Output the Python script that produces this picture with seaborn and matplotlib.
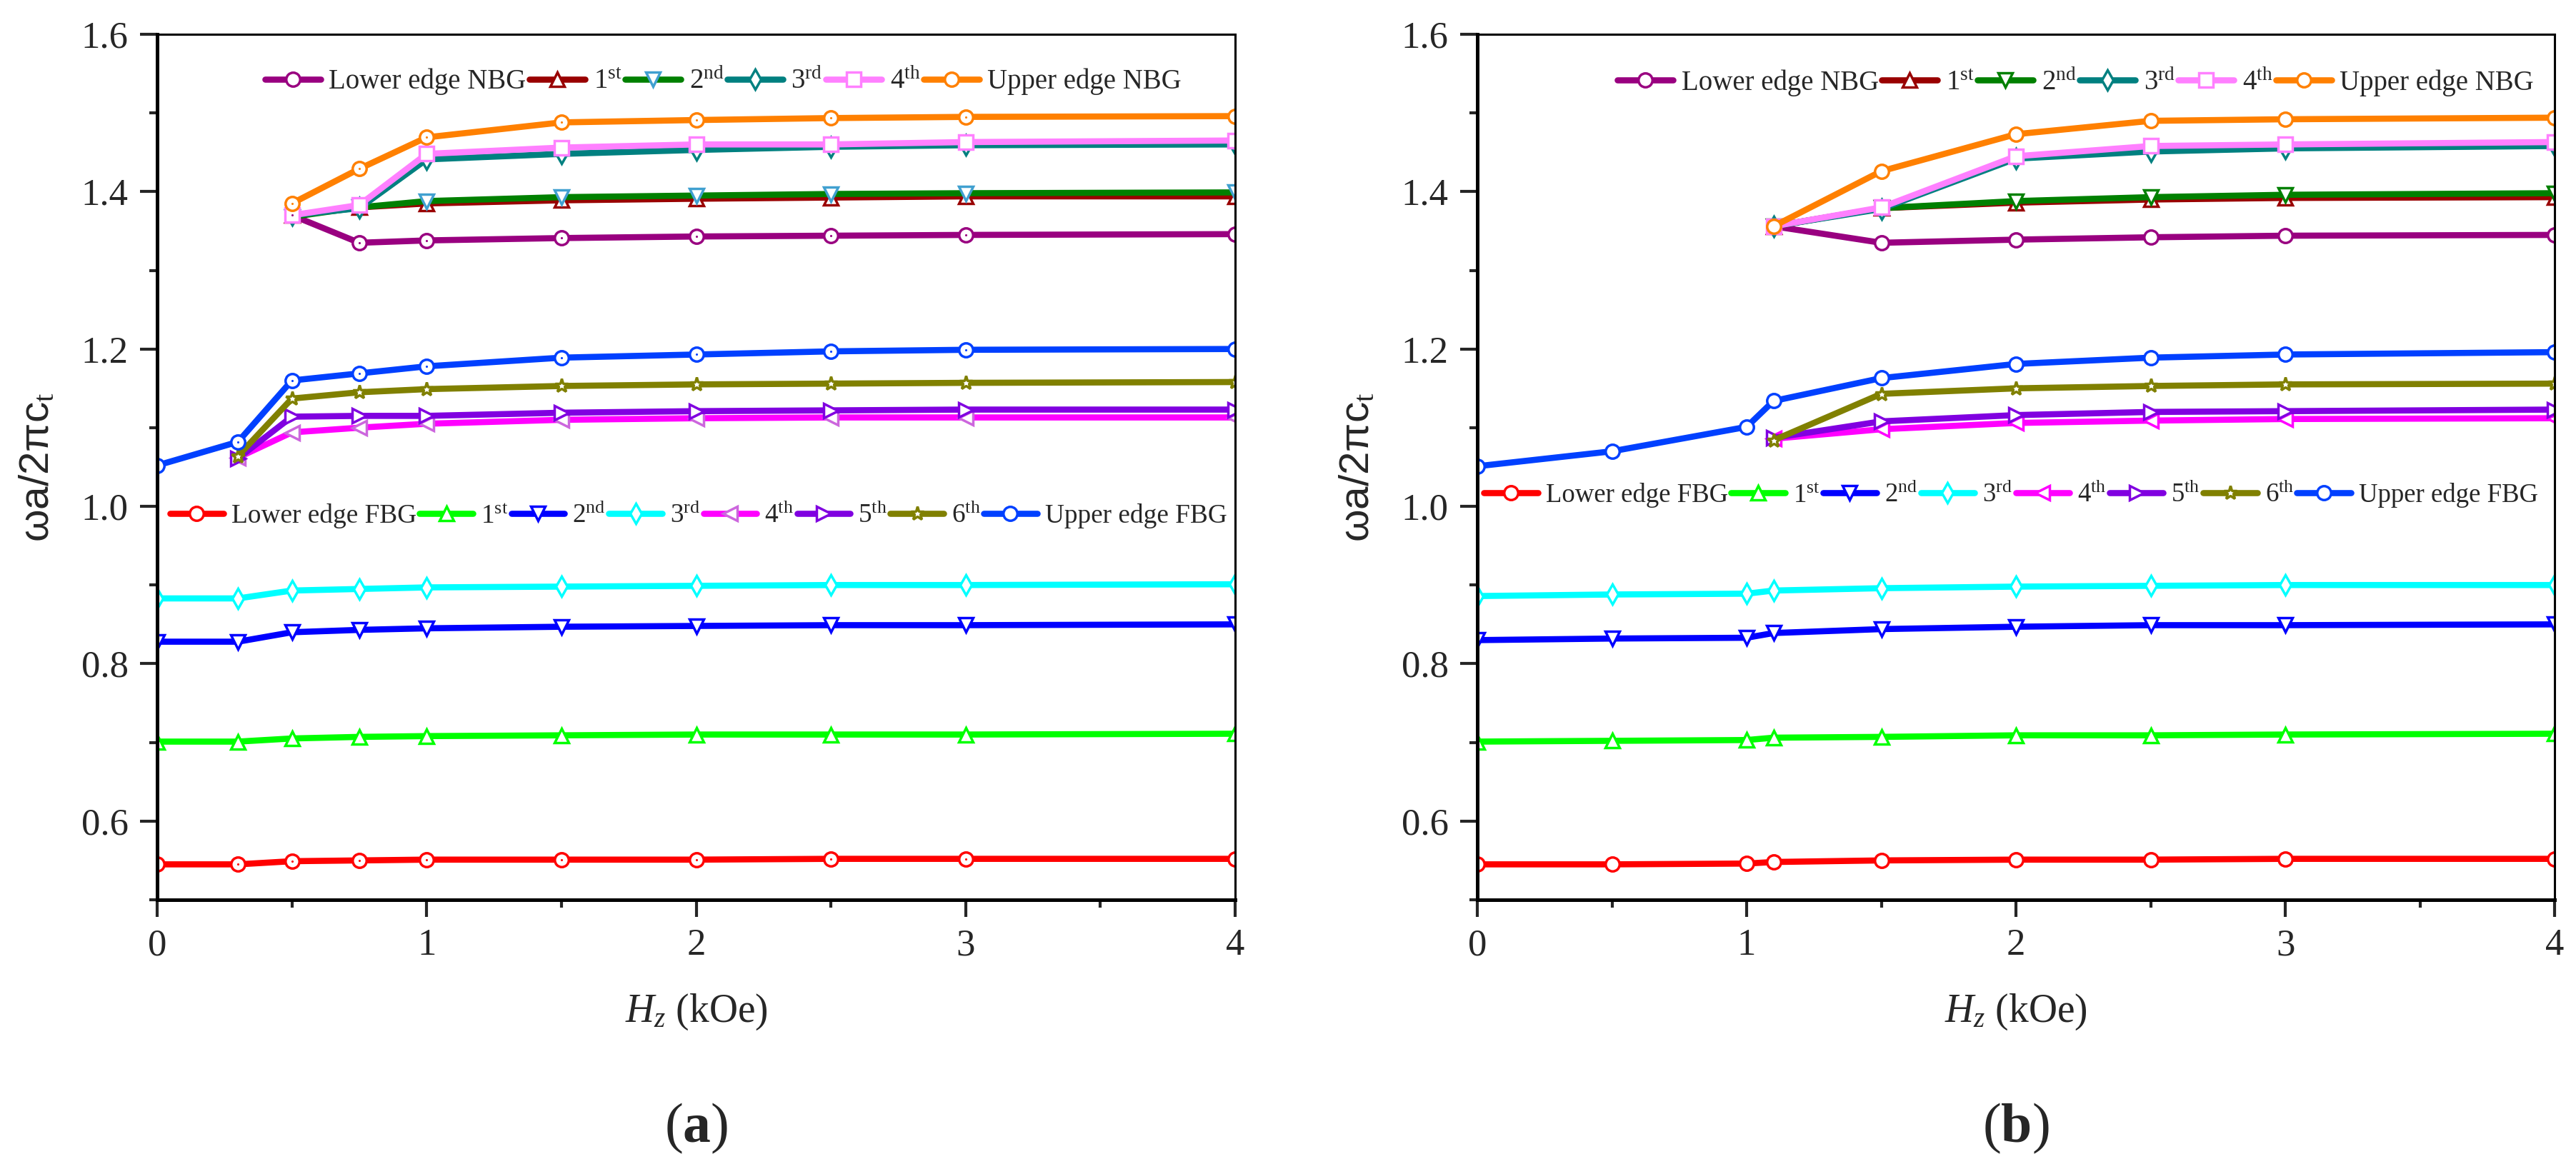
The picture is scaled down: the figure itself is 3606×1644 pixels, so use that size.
import numpy as np
import pandas as pd
import seaborn as sns
import matplotlib.pyplot as plt

# field values (kOe)
hz_a = [0, 0.3, 0.5, 0.75, 1, 1.5, 2, 2.5, 3, 4]
hz_b = [0, 0.5, 1, 1.1, 1.5, 2, 2.5, 3, 4]

# ---- panel (a) ----
a_nbg_x = [0.5, 0.75, 1, 1.5, 2, 2.5, 3, 4]
a_nbg_lower = [1.370, 1.335, 1.338, 1.341, 1.343, 1.344, 1.345, 1.346]
a_nbg_1st = [1.370, 1.380, 1.385, 1.389, 1.391, 1.3925, 1.394, 1.394]
a_nbg_2nd = [1.368, 1.380, 1.388, 1.393, 1.395, 1.397, 1.398, 1.399]
a_nbg_3rd = [1.370, 1.379, 1.441, 1.448, 1.453, 1.457, 1.459, 1.460]
a_nbg_4th = [1.370, 1.383, 1.448, 1.456, 1.460, 1.460, 1.463, 1.465]
a_nbg_upper = [1.385, 1.429, 1.469, 1.488, 1.491, 1.4935, 1.495, 1.496]

a_fbg_lower = [0.545, 0.545, 0.549, 0.550, 0.551, 0.551, 0.551, 0.552, 0.552, 0.552]
a_fbg_1st = [0.701, 0.701, 0.705, 0.707, 0.708, 0.709, 0.710, 0.710, 0.710, 0.711]
a_fbg_2nd = [0.828, 0.828, 0.840, 0.843, 0.845, 0.847, 0.848, 0.849, 0.849, 0.850]
a_fbg_3rd = [0.883, 0.883, 0.893, 0.895, 0.897, 0.898, 0.899, 0.900, 0.900, 0.901]
a_fbg_hi_x = [0.3, 0.5, 0.75, 1, 1.5, 2, 2.5, 3, 4]
a_fbg_4th = [1.062, 1.094, 1.100, 1.105, 1.110, 1.112, 1.113, 1.113, 1.113]
a_fbg_5th = [1.061, 1.114, 1.115, 1.115, 1.119, 1.121, 1.122, 1.123, 1.123]
a_fbg_6th = [1.064, 1.137, 1.145, 1.149, 1.153, 1.155, 1.156, 1.157, 1.158]
a_fbg_upper = [1.052, 1.082, 1.160, 1.169, 1.178, 1.189, 1.193, 1.197, 1.199, 1.200]

# ---- panel (b) ----
b_nbg_x = [1.1, 1.5, 2, 2.5, 3, 4]
b_nbg_lower = [1.356, 1.335, 1.339, 1.342, 1.344, 1.345]
b_nbg_1st = [1.356, 1.379, 1.386, 1.390, 1.392, 1.393]
b_nbg_2nd = [1.356, 1.379, 1.388, 1.393, 1.396, 1.398]
b_nbg_3rd = [1.356, 1.378, 1.442, 1.451, 1.455, 1.458]
b_nbg_4th = [1.356, 1.380, 1.445, 1.458, 1.460, 1.463]
b_nbg_upper = [1.356, 1.426, 1.473, 1.490, 1.492, 1.494]

b_fbg_lower = [0.545, 0.545, 0.546, 0.548, 0.550, 0.551, 0.551, 0.552, 0.552]
b_fbg_1st = [0.701, 0.702, 0.703, 0.706, 0.707, 0.709, 0.709, 0.710, 0.711]
b_fbg_2nd = [0.830, 0.832, 0.833, 0.839, 0.844, 0.847, 0.849, 0.849, 0.850]
b_fbg_3rd = [0.886, 0.888, 0.889, 0.893, 0.896, 0.898, 0.899, 0.900, 0.900]
b_fbg_hi_x = [1.1, 1.5, 2, 2.5, 3, 4]
b_fbg_4th = [1.086, 1.098, 1.106, 1.109, 1.111, 1.112]
b_fbg_5th = [1.087, 1.108, 1.116, 1.120, 1.121, 1.123]
b_fbg_6th = [1.084, 1.143, 1.150, 1.153, 1.155, 1.156]
b_fbg_upper = [1.051, 1.070, 1.101, 1.134, 1.163, 1.181, 1.189, 1.193, 1.196]

nbg_labels = ["Lower edge NBG", r"1$^{\rm st}$", r"2$^{\rm nd}$", r"3$^{\rm rd}$",
              r"4$^{\rm th}$", "Upper edge NBG"]
fbg_labels = ["Lower edge FBG", r"1$^{\rm st}$", r"2$^{\rm nd}$", r"3$^{\rm rd}$",
              r"4$^{\rm th}$", r"5$^{\rm th}$", r"6$^{\rm th}$", "Upper edge FBG"]

nbg_colors = ["#990080", "#990000", "#008000", "#008080", "#FF80FF", "#FF8000"]
nbg_markers = ["o", "^", "v", "d", "s", "o"]
fbg_colors = ["#FF0000", "#00FF00", "#0000FF", "#00FFFF", "#FF00FF", "#8000E0",
              "#808000", "#0040FF"]
fbg_markers = ["o", "^", "v", "d", "<", ">", "*", "o"]

sns.set_theme(style="ticks")
plt.rcParams["font.family"] = ["Liberation Serif", "DejaVu Serif"]
plt.rcParams["mathtext.fontset"] = "custom"
plt.rcParams["mathtext.rm"] = "Liberation Serif"
plt.rcParams["mathtext.it"] = "Liberation Serif:italic"
plt.rcParams["mathtext.bf"] = "Liberation Serif:bold"

fig = plt.figure(figsize=(36.06, 16.44), dpi=100)
fig.patch.set_facecolor("white")


def draw(ax, x, y, color, marker, mec=None, dot=False):
    sns.lineplot(x=x, y=y, ax=ax, color=color, marker=marker,
                 markersize=14, markerfacecolor="white",
                 markeredgecolor=mec or color, markeredgewidth=2.5,
                 linewidth=6.2, errorbar=None, legend=False)
    line = ax.lines[-1]
    if dot:
        # small centre dot inside the open circles
        sns.scatterplot(x=x, y=y, ax=ax, color=color, s=5, linewidth=0,
                        legend=False, zorder=line.get_zorder() + 0.1)
    return line


def style_axes(ax):
    ax.set_xlim(0, 4)
    ax.set_ylim(0.5, 1.6)
    ax.set_xticks([0, 1, 2, 3, 4])
    ax.set_xticks([0.5, 1.5, 2.5, 3.5], minor=True)
    ax.set_yticks([0.6, 0.8, 1.0, 1.2, 1.4, 1.6])
    ax.set_yticks([0.5, 0.7, 0.9, 1.1, 1.3, 1.5], minor=True)
    ax.set_yticklabels(["0.6", "0.8", "1.0", "1.2", "1.4", "1.6"])
    ax.tick_params(which="major", direction="out", length=17, width=3,
                   labelsize=38, pad=12, top=False, right=False)
    ax.tick_params(which="minor", direction="out", length=8, width=3,
                   top=False, right=False)
    for side in ["left", "bottom"]:
        ax.spines[side].set_linewidth(3.6)
    for side in ["top", "right"]:
        ax.spines[side].set_visible(True)
        ax.spines[side].set_linewidth(2.2)
    for s in ax.spines.values():
        s.set_color("black")
    ax.set_xlabel(r"$H_z$ (kOe)", fontsize=40, labelpad=30)
    ax.set_ylabel(r"ωa/2πc$_{\rm t}$", fontsize=42, labelpad=24,
                  family=["Liberation Sans", "DejaVu Sans"])
    ax.set_facecolor("white")


panels = [
    dict(rect=[0.0610, 0.2336, 0.4185, 0.7372], tag="a", dots=True,
         nbg_x=a_nbg_x,
         nbg=[a_nbg_lower, a_nbg_1st, a_nbg_2nd, a_nbg_3rd, a_nbg_4th, a_nbg_upper],
         nbg_mec=[None, None, "#40A0D0", None, None, None],
         fbg_x=[hz_a, hz_a, hz_a, hz_a, a_fbg_hi_x, a_fbg_hi_x, a_fbg_hi_x, hz_a],
         fbg=[a_fbg_lower, a_fbg_1st, a_fbg_2nd, a_fbg_3rd, a_fbg_4th, a_fbg_5th,
              a_fbg_6th, a_fbg_upper],
         fbg_mec=[None, None, None, None, "#CC66DD", None, None, None],
         leg_nbg=(0.10, 0.945), leg_fbg=(0.012, 0.444),
         nbg_fs=28, fbg_fs=26.8, fbg_hl=2.0),
    dict(rect=[0.5735, 0.2336, 0.4182, 0.7372], tag="b", dots=False,
         nbg_x=b_nbg_x,
         nbg=[b_nbg_lower, b_nbg_1st, b_nbg_2nd, b_nbg_3rd, b_nbg_4th, b_nbg_upper],
         nbg_mec=[None] * 6,
         fbg_x=[hz_b, hz_b, hz_b, hz_b, b_fbg_hi_x, b_fbg_hi_x, b_fbg_hi_x, hz_b],
         fbg=[b_fbg_lower, b_fbg_1st, b_fbg_2nd, b_fbg_3rd, b_fbg_4th, b_fbg_5th,
              b_fbg_6th, b_fbg_upper],
         fbg_mec=[None] * 8,
         leg_nbg=(0.13, 0.944), leg_fbg=(0.006, 0.468),
         nbg_fs=28, fbg_fs=26.5, fbg_hl=2.05),
]

for p in panels:
    ax = fig.add_axes(p["rect"])
    fbg_handles = []
    for x, y, c, m, mec in zip(p["fbg_x"], p["fbg"], fbg_colors, fbg_markers, p["fbg_mec"]):
        fbg_handles.append(draw(ax, x, y, c, m, mec, dot=p["dots"] and m == "o"))
    nbg_handles = []
    for y, c, m, mec in zip(p["nbg"], nbg_colors, nbg_markers, p["nbg_mec"]):
        nbg_handles.append(draw(ax, p["nbg_x"], y, c, m, mec, dot=p["dots"] and m == "o"))
    style_axes(ax)

    leg_kw = dict(frameon=False, handletextpad=0.3,
                  columnspacing=0.12, borderpad=0, borderaxespad=0, numpoints=1,
                  loc="center left")
    leg1 = ax.legend(nbg_handles, nbg_labels, ncol=6, fontsize=p["nbg_fs"],
                     handlelength=2.0, bbox_to_anchor=p["leg_nbg"], **leg_kw)
    ax.add_artist(leg1)
    ax.legend(fbg_handles, fbg_labels, ncol=8, fontsize=p["fbg_fs"],
              handlelength=p["fbg_hl"], bbox_to_anchor=p["leg_fbg"], **leg_kw)

    x0, y0, w, h = p["rect"]
    fig.text(x0 + w / 2, 0.039, r"($\mathbf{" + p["tag"] + r"}$)",
             fontsize=56, ha="center", va="center")

plt.savefig("out.png", dpi=100, facecolor="white")
